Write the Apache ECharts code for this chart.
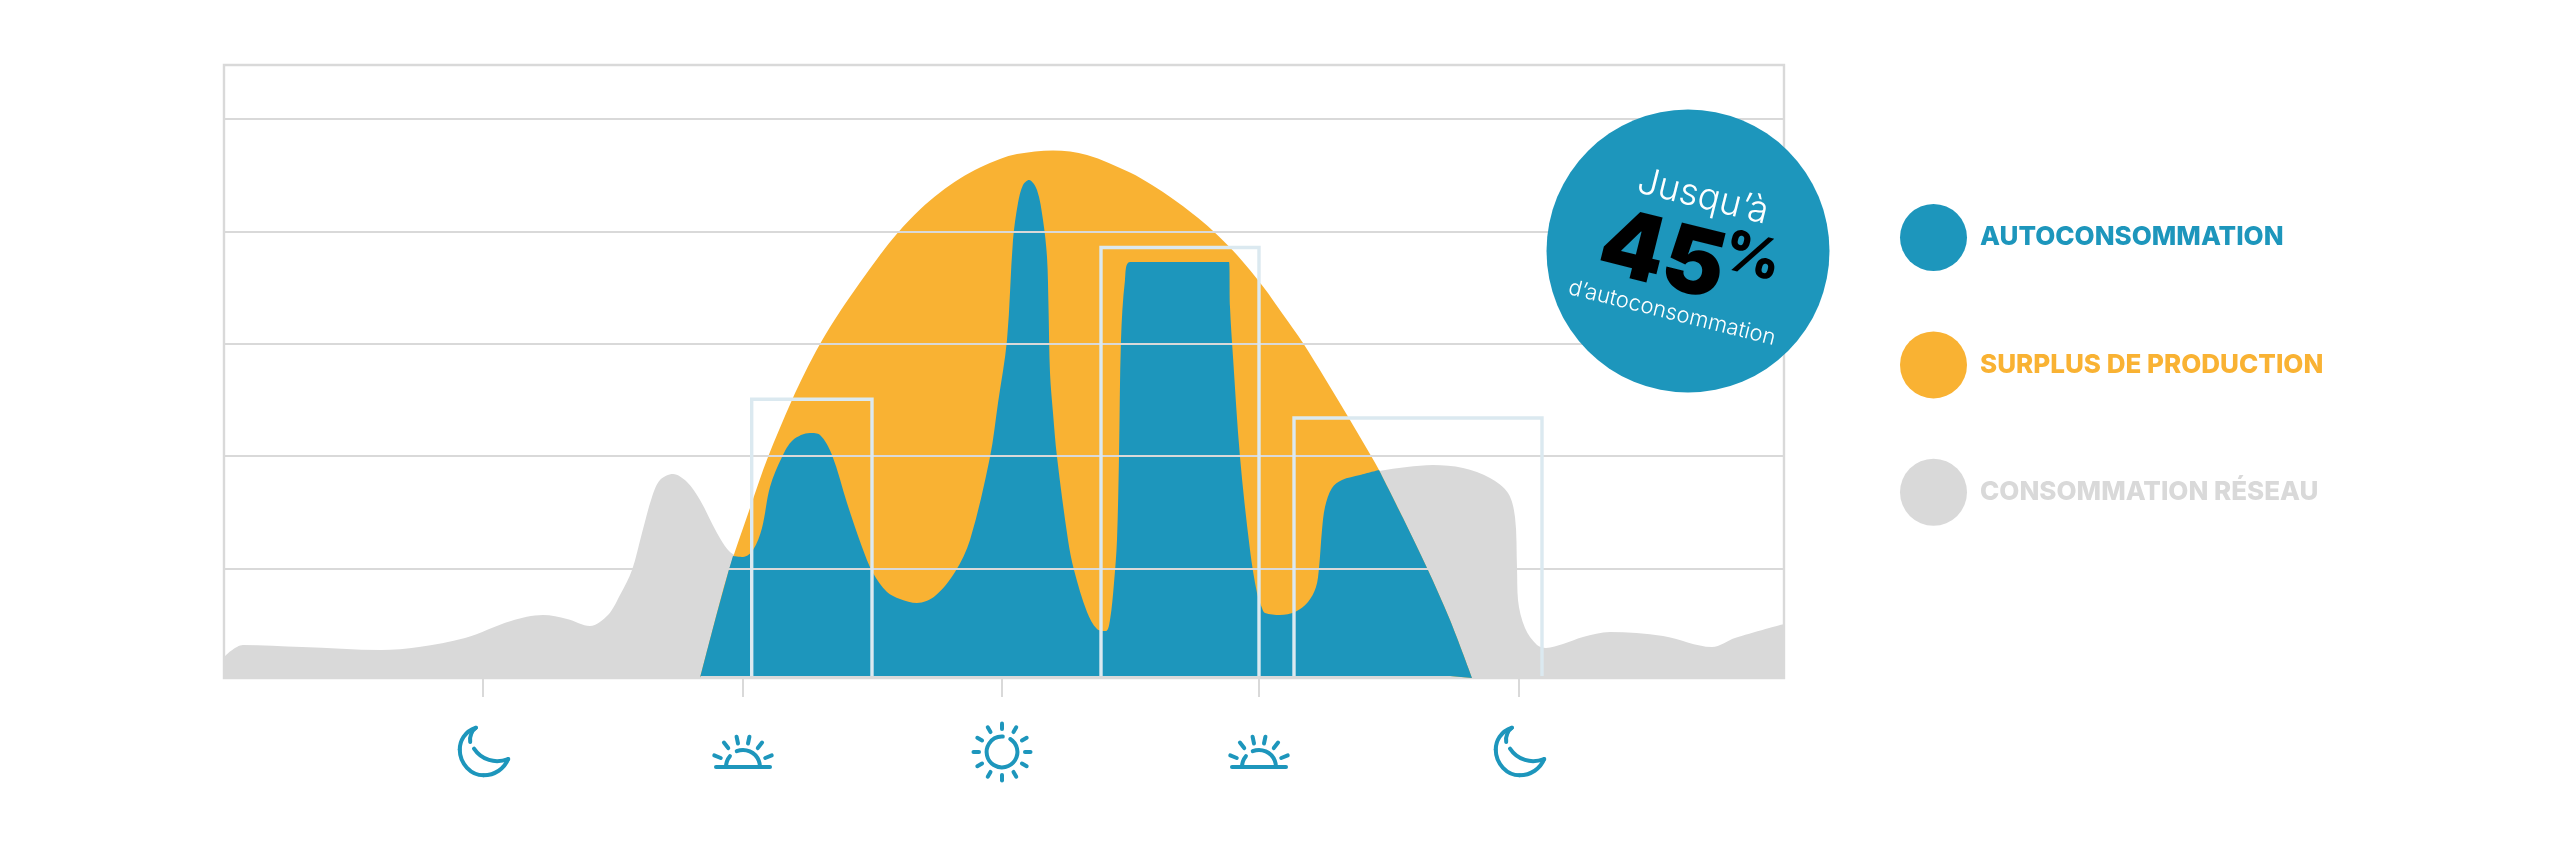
<!DOCTYPE html>
<html>
<head>
<meta charset="utf-8">
<title>Autoconsommation</title>
<script src="https://cdn.jsdelivr.net/npm/echarts@6/dist/echarts.min.js"></script>
<style>
  html, body { margin: 0; padding: 0; background: #fff; }
  #chart { width: 2560px; height: 846px; }
</style>
</head>
<body>
<div id="chart"></div>
<script>
// values, axis units are arbitrary (no labels on the chart)
const gridValues = [109.4, 221.8, 334.1, 446.5, 559.3];
const tickValues = [259, 519, 778, 1035, 1295];

const consumption = [
    [0, 21], [19, 33], [78, 31], [157, 28], [195, 31], [241, 40], [287, 57], [319, 63], [343, 59], [366, 52], [384, 63],
    [396, 83], [408, 108], [418, 145], [428, 181], [436, 198], [449, 204], [463, 196], [476, 178], [493, 145], [506, 126],
    [519, 121], [529, 128], [538, 150], [546, 191], [558, 221], [569, 238], [586, 245], [596, 243], [608, 223], [623, 175],
    [638, 131], [649, 105], [663, 86], [676, 79], [693, 75], [711, 82], [731, 106], [746, 138], [766, 221], [774, 275],
    [783, 338], [789, 438], [794, 475], [799, 493], [805, 498], [813, 488], [819, 458], [823, 421], [824.5, 371], [826, 305],
    [829, 265], [833, 221], [844, 138], [850, 108], [863, 66], [873, 49], [882, 47], [886, 58], [890, 95], [893, 138],
    [895, 221], [897, 338], [901, 398], [906, 416], [1005, 416], [1006, 371], [1009, 321], [1016, 221], [1026, 128], [1033, 85],
    [1038, 70], [1041, 65], [1056, 63], [1071, 66], [1084, 76], [1092, 91], [1095, 110], [1098, 148], [1101, 171], [1108, 190],
    [1118, 198], [1136, 203], [1155, 207], [1183, 211], [1209, 213], [1239, 210], [1266, 200], [1284, 185], [1291, 161], [1293, 110],
    [1294, 78], [1301, 50], [1313, 33], [1322, 30], [1339, 34], [1359, 41], [1386, 46], [1439, 42], [1488, 31], [1511, 40], [1560, 54]
];

const production = [
    [476, 0], [489, 50], [504, 105], [526, 170], [544, 221], [568, 278], [581, 305.5], [596, 334], [616, 366.5], [636, 395.5],
    [656, 423], [674, 445.5], [696, 468.5], [716, 485.5], [736, 499.5], [756, 510.5], [776, 519], [793, 524], [829, 527.5], [863, 523],
    [906, 505.5], [928, 493], [949, 479], [969, 464], [988, 448], [1013, 423], [1039, 391.5], [1059, 363.5], [1079, 335], [1101, 299.5],
    [1123, 263], [1148, 220.5], [1155, 208], [1179, 160], [1203, 110], [1226, 58], [1248, 0]
];

// self consumption, in three parts so the corners where the two curves cross stay sharp
const selfUseRise = [[476, 0], [489, 50], [504, 105], [509, 122]];
const selfUseMiddle = [
    [509, 122], [519, 121], [529, 128], [538, 150], [546, 191], [558, 221], [569, 238],
    [586, 245], [596, 243], [608, 223], [623, 175], [638, 131], [649, 105], [663, 86], [676, 79], [693, 75], [711, 82],
    [731, 106], [746, 138], [766, 221], [774, 275], [783, 338], [789, 438], [794, 475], [799, 493], [805, 498], [813, 488],
    [819, 458], [823, 421], [824.5, 371], [826, 305], [829, 265], [833, 221], [844, 138], [850, 108], [863, 66], [873, 49],
    [882, 47], [886, 58], [890, 95], [893, 138], [895, 221], [897, 338], [901, 398], [906, 416], [1005, 416], [1006, 371],
    [1009, 321], [1016, 221], [1026, 128], [1033, 85], [1038, 70], [1041, 65], [1056, 63], [1071, 66], [1084, 76], [1092, 91],
    [1095, 110], [1098, 148], [1101, 171], [1108, 190], [1118, 198], [1136, 203], [1155, 208]
];
const selfUseFall = [[1155, 208], [1179, 160], [1203, 110], [1226, 58], [1248, 0]];

// the three outlined demand blocks: start, end, height
const blockStart = [527.7, 877, 1070];
const blockEnd = [648, 1035, 1318];
const blockHeight = [278.7, 430.5, 260];

const legendNames = ['AUTOCONSOMMATION', 'SURPLUS DE PRODUCTION', 'CONSOMMATION RÉSEAU'];

const BLUE = '#1d96bc';
const ORANGE = '#f9b233';
const GREY = '#d9d9d9';
const PALE = '#dbe9f0';

const areaSeries = (name, data, color, origin) => ({
    name: name,
    type: 'line',
    data: data,
    smooth: 0.33,
    showSymbol: false,
    silent: true,
    z: 2,
    lineStyle: { width: 0 },
    itemStyle: { color: color },
    areaStyle: { color: color, opacity: 1, origin: origin }
});

const blockSeries = blockStart.map((s, i) => ({
    type: 'line',
    data: [[s, 2], [s, blockHeight[i]], [blockEnd[i], blockHeight[i]], [blockEnd[i], 2]],
    showSymbol: false,
    silent: true,
    z: 6,
    lineStyle: { color: PALE, width: 3.4, join: 'miter' }
}));

// night / sunrise / noon icons under the ticks
const ICON_STROKE = { stroke: BLUE, fill: null, lineWidth: 4, lineCap: 'round', lineJoin: 'round' };

const MOON_SCALE = 0.95;
const curve = (cx, cy, p) => {
    const q = p.map(v => v * MOON_SCALE);
    return {
        type: 'bezierCurve',
        shape: {
            x1: cx + q[0], y1: cy + q[1],
            cpx1: cx + q[2], cpy1: cy + q[3],
            cpx2: cx + q[4], cpy2: cy + q[5],
            x2: cx + q[6], y2: cy + q[7]
        },
        style: ICON_STROKE
    };
};

const moonIcon = (cx) => [
    [-14, -10, -15, -16, -12, -22, -8, -25],
    [-8, -25, -20, -21, -25, -11, -25, -2],
    [-25, -2, -25, 13, -13, 25, 0, 25],
    [0, 25, 12, 25, 22, 18, 26, 8],
    [26, 8, 12, 13, -2, 9, -10, -3]
].map(p => curve(cx, 751.5, p));

const ray = (cx, cy, deg, r0, r1) => {
    const a = deg * Math.PI / 180;
    return {
        type: 'line',
        shape: {
            x1: cx + r0 * Math.sin(a), y1: cy - r0 * Math.cos(a),
            x2: cx + r1 * Math.sin(a), y2: cy - r1 * Math.cos(a)
        },
        style: ICON_STROKE
    };
};

const sunriseIcon = (cx) => {
    const cy = 767;
    const els = [
        { type: 'line', shape: { x1: cx - 27, y1: cy, x2: cx + 27, y2: cy }, style: ICON_STROKE },
        { type: 'arc', shape: { cx: cx, cy: cy, r: 17, startAngle: -Math.PI * 0.62, endAngle: 0 }, style: ICON_STROKE },
        { type: 'arc', shape: { cx: cx, cy: cy, r: 17, startAngle: Math.PI, endAngle: -Math.PI * 0.78 }, style: ICON_STROKE }
    ];
    [-68, -38, -12, 12, 38, 68].forEach(d => els.push(ray(cx, cy, d, 24, 31)));
    return els;
};

const sunIcon = (cx) => {
    const cy = 752;
    const els = [
        { type: 'arc', shape: { cx: cx, cy: cy, r: 15.4, startAngle: -Math.PI * 0.32, endAngle: -Math.PI * 0.42 + Math.PI * 2 - 0.2 }, style: ICON_STROKE }
    ];
    for (let d = 0; d < 360; d += 30) els.push(ray(cx, cy, d, 23, 28.5));
    return els;
};

const TILT = -14 * Math.PI / 180;
const badgeText = (text, x, y, font, fill) => ({
    type: 'text',
    x: x,
    y: y,
    rotation: TILT,
    z: 11,
    style: { text: text, fill: fill, font: font, align: 'center', verticalAlign: 'middle' }
});

const chart = echarts.init(document.getElementById('chart'));

chart.setOption({
    animation: false,
    backgroundColor: '#fff',
    grid: { left: 224, top: 65, width: 1560, height: 613, show: true, borderColor: GREY, borderWidth: 2.4, backgroundColor: 'transparent' },
    xAxis: {
        type: 'value',
        min: 0,
        max: 1560,
        offset: 10,
        splitLine: { show: false },
        axisLine: { show: false },
        axisLabel: { show: false },
        axisTick: { show: true, length: 19, customValues: tickValues, lineStyle: { color: GREY, width: 2 } }
    },
    yAxis: {
        type: 'value',
        min: 0,
        max: 613,
        z: 5,
        axisLine: { show: false },
        axisLabel: { show: false },
        axisTick: { show: false, customValues: gridValues },
        splitLine: { show: true, lineStyle: { color: GREY, width: 2 } }
    },
    legend: {
        orient: 'vertical',
        left: 1900,
        top: 204,
        padding: 0,
        icon: 'circle',
        itemWidth: 67,
        itemHeight: 67,
        itemGap: 60.4,
        selectedMode: false,
        data: [
            { name: legendNames[0], textStyle: { color: BLUE } },
            { name: legendNames[1], textStyle: { color: ORANGE } },
            { name: legendNames[2], textStyle: { color: GREY } }
        ],
        textStyle: { fontFamily: 'Inter', fontWeight: 800, fontSize: 26, padding: [3, 0, 0, 8] }
    },
    series: [
        areaSeries(legendNames[2], consumption, GREY, 0),
        areaSeries(legendNames[1], production, ORANGE, 2),
        areaSeries(legendNames[0], selfUseMiddle, BLUE, 2),
        areaSeries('', selfUseRise, BLUE, 2),
        areaSeries('', selfUseFall, BLUE, 2)
    ].concat(blockSeries),
    graphic: [
        { type: 'circle', z: 10, shape: { cx: 1688, cy: 251, r: 141.5 }, style: { fill: BLUE } },
        badgeText('Jusqu’à', 1703, 197, '300 37px Inter', '#fff'),
        badgeText('45', 1662, 258, '900 92px Inter', '#000'),
        badgeText('%', 1752, 258, '800 56px Inter', '#000'),
        badgeText('d’autoconsommation', 1672, 313, '300 22px Inter', '#fff')
    ].concat(moonIcon(483.5), moonIcon(1519.5), sunriseIcon(743), sunIcon(1002), sunriseIcon(1259))
});
</script>
</body>
</html>
